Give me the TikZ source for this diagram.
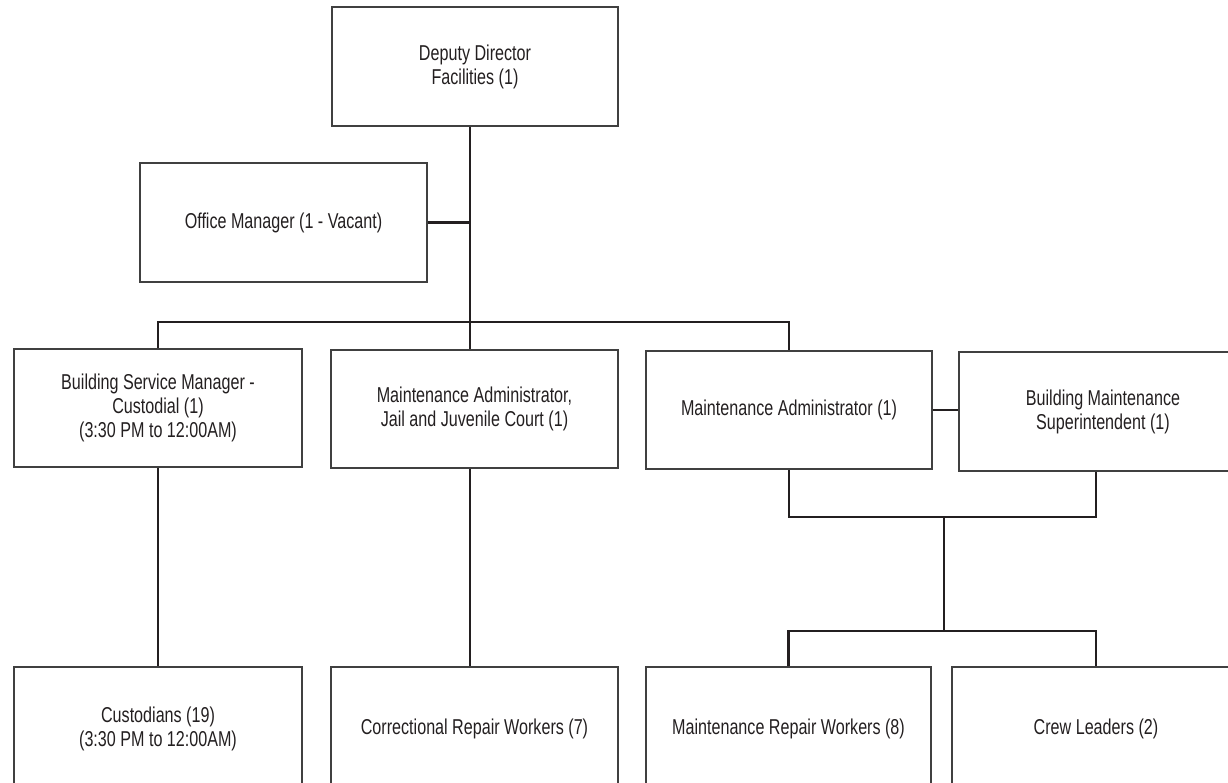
\documentclass[tikz,border=0pt]{standalone}
\usepackage{fontspec}
\setmainfont{Liberation Sans}[FakeStretch=0.75]
\begin{document}
\definecolor{ink}{HTML}{231F20}
\definecolor{frame}{HTML}{404040}
\begin{tikzpicture}[x=1pt,y=-1pt,
  box/.style={draw=frame,line width=1.5pt,inner sep=0pt,align=center,
    text=ink,font=\fontsize{21.5}{24}\selectfont},
  conn/.style={draw=ink,line width=2.8pt}]
\useasboundingbox (0,0) rectangle (1228,783);
\clip (0,0) rectangle (1228,783);

% boxes: centre, width, height
\node[box,minimum width=286pt,minimum height=119pt] (dep) at (475,66.5)
  {Deputy Director\\Facilities (1)};
\node[box,minimum width=287pt,minimum height=119pt] (off) at (283.5,222.5)
  {Office Manager (1 - Vacant)};
\node[box,minimum width=288pt,minimum height=118pt] (bsm) at (158,408)
  {Building Service Manager -\\Custodial (1)\\(3:30 PM to 12:00AM)};
\node[box,minimum width=287pt,minimum height=118pt] (jail) at (474.5,409)
  {Maintenance Administrator,\\Jail and Juvenile Court (1)};
\node[box,minimum width=286pt,minimum height=118pt] (ma) at (789,410)
  {Maintenance Administrator (1)};
\node[box,minimum width=288pt,minimum height=119pt] (bms) at (1103,411.5)
  {Building Maintenance\\Superintendent (1)};
\node[box,minimum width=288pt,minimum height=124pt] (cust) at (158,729)
  {Custodians (19)\\(3:30 PM to 12:00AM)};
\node[box,minimum width=287pt,minimum height=124pt] (corr) at (474.5,729)
  {Correctional Repair Workers (7)};
\node[box,minimum width=285pt,minimum height=124pt] (mrw) at (788.5,729)
  {Maintenance Repair Workers (8)};
\node[box,minimum width=288pt,minimum height=124pt] (crew) at (1096,729)
  {Crew Leaders (2)};

% junction points of the connector lines
\coordinate (spine) at (470,322);
\coordinate (j1) at (944,517);
\coordinate (j1r) at (1096,517);
\coordinate (j2) at (944,631);

% connectors
\draw[conn] (dep.south -| spine) -- (jail.north -| spine);
\draw[conn] (off.east) -- (off.east -| spine);
\draw[conn] (bsm.north) |- (spine) -| (ma.north);
\draw[conn] (bsm.south) -- (cust.north);
\draw[conn] (jail.south -| spine) -- (corr.north -| spine);
\draw[conn] (ma.east) -- (ma.east -| bms.west);
\draw[conn] (ma.south) |- (j1r) -- (j1r |- bms.south);
\draw[conn] (j1) -- (j2);
\draw[conn] (mrw.north) |- (j2) -| (crew.north);
\end{tikzpicture}
\end{document}
